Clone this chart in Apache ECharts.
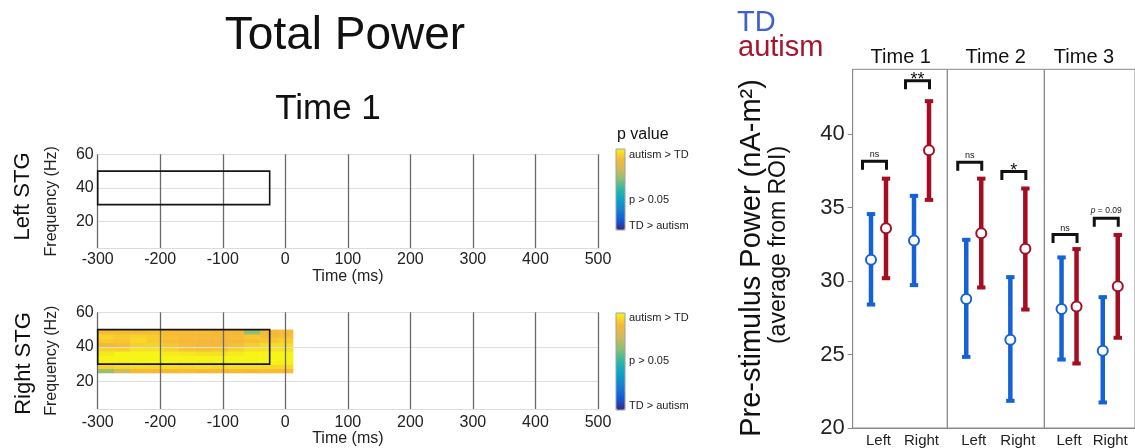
<!DOCTYPE html>
<html>
<head>
<meta charset="utf-8">
<script src="https://cdn.jsdelivr.net/npm/echarts@6/dist/echarts.min.js"></script>
<style>
  html, body { margin: 0; padding: 0; background: #fff; }
  #main { width: 1135px; height: 448px; }
</style>
</head>
<body>
<div id="main"></div>
<script>
// ---------- time-frequency maps (Time 1) ----------
const timeTicks = [-300, -200, -100, 0, 100, 200, 300, 400, 500];
const freqTicks = [20, 40, 60];
const roiTime = [-300, -25];          // ms
const roiFreq = [30, 50];            // Hz

// Right STG cluster: bin edges and scaled p values (1 = strongest autism > TD)
const clusterTimeEdges = [-300, -274, -248, -222, -196, -170, -144, -118, -92, -66, -40, -14, 12];
const clusterFreqEdges = [25, 27.5, 30, 32.5, 35, 37.5, 40, 42.5, 45, 47.5, 50];
const clusterRows = [            // lowest frequency row first
  [0.66, 0.76, 0.87, 0.87, 0.87, 0.88, 0.87, 0.87, 0.88, 0.87, 0.88, 0.88],
  [0.93, 0.94, 0.95, 0.94, 0.95, 0.94, 0.95, 0.94, 0.95, 0.95, 0.94, 0.94],
  [0.99, 0.99, 1.00, 1.00, 1.00, 0.99, 0.99, 0.99, 1.00, 1.00, 1.00, 0.99],
  [1.00, 1.00, 1.00, 1.00, 1.00, 1.00, 1.00, 1.00, 1.00, 1.00, 1.00, 1.00],
  [0.97, 1.00, 1.00, 1.00, 0.98, 0.97, 0.96, 0.96, 0.98, 1.00, 1.00, 1.00],
  [0.93, 0.92, 0.96, 0.96, 0.93, 0.90, 0.89, 0.90, 0.93, 0.96, 0.96, 0.96],
  [0.87, 0.88, 0.92, 0.93, 0.90, 0.88, 0.87, 0.87, 0.89, 0.92, 0.95, 0.95],
  [0.91, 0.90, 0.94, 0.91, 0.88, 0.87, 0.86, 0.85, 0.87, 0.89, 0.90, 0.92],
  [0.93, 0.91, 0.93, 0.91, 0.89, 0.88, 0.87, 0.87, 0.88, 0.90, 0.88, 0.89],
  [0.88, 0.88, 0.88, 0.89, 0.88, 0.88, 0.88, 0.87, 0.87, 0.64, 0.86, 0.88]
];
const parula = ['#352a87', '#0f5cdd', '#1481d6', '#06a4ca', '#2eb7a4', '#87bf77', '#d1bb59', '#f7b936', '#f6f516'];

// ---------- ROI pre-stimulus power ----------
const timepoints = ['Time 1', 'Time 2', 'Time 3'];
const sides = ['Left', 'Right'];
const powerTicks = [20, 25, 30, 35, 40];
const tdMean  = [[31.45, 32.75], [28.77, 26.00], [28.10, 25.26]];
const tdLow   = [[28.33, 29.65], [24.77, 21.78], [24.59, 21.67]];
const tdHigh  = [[34.62, 35.86], [32.87, 30.33], [31.67, 28.97]];
const asdMean = [[33.59, 38.90], [33.25, 32.19], [28.26, 29.65]];
const asdLow  = [[30.12, 35.45], [29.49, 27.99], [24.32, 26.07]];
const asdHigh = [[37.03, 42.30], [37.03, 36.36], [32.24, 33.20]];
const sigLabels = [['ns', '**'], ['ns', '*'], ['ns', 'p = 0.09']];
const sigHeight = [[38.15, 43.62], [38.08, 37.44], [33.16, 34.26]];

// ---------- styling ----------
const FONT = '"Liberation Sans", Arial, Helvetica, sans-serif';
const TD_COLOR = '#1462d6';
const ASD_COLOR = '#a50d22';
const DODGE = 7.5;

const chart = echarts.init(document.getElementById('main'), null, { renderer: 'canvas' });

// cluster cells as [t0, t1, f0, f1, value]
const clusterCells = [];
clusterRows.forEach((row, fi) => {
  row.forEach((v, ti) => {
    clusterCells.push([clusterTimeEdges[ti], clusterTimeEdges[ti + 1],
                       clusterFreqEdges[fi], clusterFreqEdges[fi + 1], v]);
  });
});

function cellItem(params, api) {
  const a = api.coord([api.value(0), api.value(3)]);
  const b = api.coord([api.value(1), api.value(2)]);
  return {
    type: 'rect',
    shape: { x: a[0], y: a[1], width: b[0] - a[0] + 0.5, height: b[1] - a[1] + 0.5 },
    style: { fill: api.visual('color') }
  };
}
function boxItem(params, api) {
  const a = api.coord([api.value(0), api.value(3)]);
  const b = api.coord([api.value(1), api.value(2)]);
  return {
    type: 'rect',
    shape: { x: a[0], y: a[1], width: b[0] - a[0], height: b[1] - a[1] },
    style: { fill: null, stroke: '#151515', lineWidth: 1.6 }
  };
}
function errorBar(color, dodge) {
  return function (params, api) {
    const m = api.coord([api.value(0), api.value(1)]);
    const lo = api.coord([api.value(0), api.value(2)]);
    const hi = api.coord([api.value(0), api.value(3)]);
    const cx = m[0] + dodge;
    return {
      type: 'group',
      children: [
        { type: 'line', shape: { x1: cx, y1: lo[1], x2: cx, y2: hi[1] }, style: { stroke: color, lineWidth: 4.5 } },
        { type: 'line', shape: { x1: cx - 4.2, y1: hi[1] + 1, x2: cx + 4.2, y2: hi[1] + 1 }, style: { stroke: color, lineWidth: 4 } },
        { type: 'line', shape: { x1: cx - 4.2, y1: lo[1] - 1, x2: cx + 4.2, y2: lo[1] - 1 }, style: { stroke: color, lineWidth: 4 } },
        { type: 'circle', shape: { cx: cx, cy: m[1], r: 5 }, style: { fill: '#fff', stroke: color, lineWidth: 2 } }
      ]
    };
  };
}
function bracket(labels) {
  return function (params, api) {
    const p = api.coord([api.value(0), api.value(1)]);
    const cx = p[0] - 4;
    const y = p[1];
    const label = labels[params.dataIndex];
    const isStars = label.indexOf('*') === 0;
    const isP = label.indexOf('p') === 0;
    const text = isP ? {
      type: 'text', x: cx, y: y - 3,
      style: { text: '{i|p}{n| = 0.09}', align: 'center', verticalAlign: 'bottom',
               rich: { i: { fontStyle: 'italic', fontSize: 8.5, fontFamily: FONT, fill: '#222' },
                       n: { fontSize: 8.5, fontFamily: FONT, fill: '#222' } } }
    } : {
      type: 'text', x: cx, y: isStars ? y + 8 : y - 2,
      style: { text: label, align: 'center', verticalAlign: 'bottom',
               fontSize: isStars ? 18 : 9, fontFamily: FONT, fill: '#111' }
    };
    return {
      type: 'group',
      children: [
        { type: 'polyline', shape: { points: [[cx - 12, y + 8.5], [cx - 12, y], [cx + 12, y], [cx + 12, y + 8.5]] },
          style: { stroke: '#111', lineWidth: 3, fill: null } },
        text
      ]
    };
  };
}

// ---------- grids ----------
const grids = [
  { left: 97.7, top: 154.3, width: 500.3, height: 94 },
  { left: 97.7, top: 312.3, width: 500.3, height: 98 },
  { left: 852.7, top: 69.3, width: 94.6, height: 361.4, show: true, borderColor: '#8a8a8a', borderWidth: 1 },
  { left: 947.3, top: 69.3, width: 97, height: 361.4, show: true, borderColor: '#8a8a8a', borderWidth: 1 },
  { left: 1044.3, top: 69.3, width: 97, height: 361.4, show: true, borderColor: '#8a8a8a', borderWidth: 1 }
];

const xAxes = [];
const yAxes = [];
[0, 1].forEach(g => {
  xAxes.push({
    gridIndex: g, type: 'value', min: -300, max: 500, interval: 100,
    name: 'Time (ms)', nameLocation: 'middle', nameGap: g === 0 ? 14 : 19,
    nameTextStyle: { fontSize: 16, fontFamily: FONT, color: '#222' },
    axisLine: { show: true, onZero: false, lineStyle: { color: '#dcdcdc' } },
    axisTick: { show: false },
    axisLabel: { fontSize: 16, fontFamily: FONT, color: '#222', margin: g === 0 ? 3 : 5,
                 customValues: timeTicks },
    splitLine: { show: true, lineStyle: { color: '#6a6a6a', width: 1.3 } }
  });
  yAxes.push({
    gridIndex: g, type: 'value', min: 4, max: 60,
    name: 'Frequency (Hz)', nameLocation: 'middle', nameGap: 38, nameRotate: 90,
    nameTextStyle: { fontSize: 16, fontFamily: FONT, color: '#222' },
    axisLine: { show: false, onZero: false },
    axisTick: { show: false, customValues: freqTicks },
    axisLabel: { fontSize: 16, fontFamily: FONT, color: '#222', margin: 4, customValues: freqTicks },
    splitLine: { show: true, lineStyle: { color: '#dedede', width: 1 } }
  });
});
[2, 3, 4].forEach(g => {
  xAxes.push({
    gridIndex: g, type: 'value', min: -0.6, max: 1.6,
    axisLine: { show: true, onZero: false, lineStyle: { color: '#8a8a8a' } },
    axisTick: { show: false, customValues: [0, 1] },
    axisLabel: { fontSize: 15, fontFamily: FONT, color: '#222', margin: 5, customValues: [0, 1],
                 formatter: v => sides[Math.round(v)] },
    splitLine: { show: false }
  });
  yAxes.push({
    gridIndex: g, type: 'value', min: 20, max: 44.4,
    axisLine: { show: g === 2, onZero: false, lineStyle: { color: '#8a8a8a' } },
    axisTick: { show: g === 2, length: 5, lineStyle: { color: '#8a8a8a' }, customValues: powerTicks },
    axisLabel: { show: g === 2, fontSize: 22, fontFamily: FONT, color: '#222', margin: 8, customValues: powerTicks },
    splitLine: { show: false }
  });
});

// ---------- series ----------
const series = [
  { name: 'Left STG cluster', type: 'custom', xAxisIndex: 0, yAxisIndex: 0, z: -1,
    renderItem: cellItem, encode: { x: [0, 1], y: [2, 3] }, data: [] },
  { name: 'Left STG ROI', type: 'custom', xAxisIndex: 0, yAxisIndex: 0, z: 5,
    renderItem: boxItem, encode: { x: [0, 1], y: [2, 3] },
    data: [[roiTime[0], roiTime[1], roiFreq[0], roiFreq[1]]] },
  { name: 'Right STG cluster', type: 'custom', xAxisIndex: 1, yAxisIndex: 1, z: -1,
    renderItem: cellItem, encode: { x: [0, 1], y: [2, 3] }, data: clusterCells },
  { name: 'Right STG ROI', type: 'custom', xAxisIndex: 1, yAxisIndex: 1, z: 5,
    renderItem: boxItem, encode: { x: [0, 1], y: [2, 3] },
    data: [[roiTime[0], roiTime[1], roiFreq[0], roiFreq[1]]] }
];
timepoints.forEach((tp, p) => {
  const g = p + 2;
  series.push({
    name: 'TD ' + tp, type: 'custom', xAxisIndex: g, yAxisIndex: g, z: 4,
    renderItem: errorBar(TD_COLOR, -DODGE), encode: { x: 0, y: [1, 2, 3] },
    data: sides.map((s, i) => [i, tdMean[p][i], tdLow[p][i], tdHigh[p][i]])
  });
  series.push({
    name: 'autism ' + tp, type: 'custom', xAxisIndex: g, yAxisIndex: g, z: 4,
    renderItem: errorBar(ASD_COLOR, DODGE), encode: { x: 0, y: [1, 2, 3] },
    data: sides.map((s, i) => [i, asdMean[p][i], asdLow[p][i], asdHigh[p][i]])
  });
  series.push({
    name: 'contrast ' + tp, type: 'custom', xAxisIndex: g, yAxisIndex: g, z: 6,
    renderItem: bracket(sigLabels[p]), encode: { x: 0, y: 1 },
    data: sides.map((s, i) => [i, sigHeight[p][i]])
  });
});

// ---------- colour bars ----------
function colorBar(seriesIndex, top, height) {
  return {
    type: 'continuous', seriesIndex: seriesIndex, dimension: 4, min: 0, max: 1,
    orient: 'vertical', left: 616, top: top, itemWidth: 9, itemHeight: height,
    padding: 0, calculable: false, realtime: false, hoverLink: false,
    inRange: { color: parula }, textStyle: { fontSize: 0 }
  };
}

function txt(x, y, text, size, opts) {
  return Object.assign({
    type: 'text', x: x, y: y,
    style: Object.assign({ text: text, fontSize: size, fontFamily: FONT, fill: '#111',
                           align: 'center', verticalAlign: 'middle' }, (opts && opts.style) || {})
  }, opts && opts.rotation !== undefined ? { rotation: opts.rotation } : {});
}
const R = Math.PI / 2;
const graphics = [
  txt(345, 36, 'Total Power', 46),
  txt(328, 109, 'Time 1', 35),
  txt(23, 196.5, 'Left STG', 22, { rotation: R }),
  txt(24, 363.5, 'Right STG', 22, { rotation: R }),
  txt(617, 135, 'p value', 16, { style: { align: 'left' } }),
  txt(629, 155, 'autism > TD', 11, { style: { align: 'left', fill: '#222' } }),
  txt(629, 200, 'p > 0.05', 11, { style: { align: 'left', fill: '#222' } }),
  txt(629, 226, 'TD > autism', 11, { style: { align: 'left', fill: '#222' } }),
  txt(629, 318, 'autism > TD', 11, { style: { align: 'left', fill: '#222' } }),
  txt(629, 361, 'p > 0.05', 11, { style: { align: 'left', fill: '#222' } }),
  txt(629, 406, 'TD > autism', 11, { style: { align: 'left', fill: '#222' } }),
  { type: 'rect', shape: { x: 616, y: 149, width: 9, height: 81 }, style: { fill: null, stroke: '#a0a0a0', lineWidth: 1 }, z: 100 },
  { type: 'rect', shape: { x: 616, y: 313, width: 9, height: 97 }, style: { fill: null, stroke: '#a0a0a0', lineWidth: 1 }, z: 100 },
  txt(737, 22.5, 'TD', 29, { style: { align: 'left', fill: '#3f5fd2' } }),
  txt(738, 48, 'autism', 29, { style: { align: 'left', fill: '#a8142e' } }),
  txt(752, 258, 'Pre-stimulus Power (nA-m²)', 29, { rotation: R }),
  txt(779, 245, '(average from ROI)', 23, { rotation: R }),
  txt(900.8, 57, timepoints[0], 20),
  txt(995.8, 57, timepoints[1], 20),
  txt(1084, 57, timepoints[2], 20)
];

chart.setOption({
  animation: false,
  backgroundColor: '#fff',
  textStyle: { fontFamily: FONT },
  grid: grids,
  xAxis: xAxes,
  yAxis: yAxes,
  visualMap: [colorBar(0, 149, 81), colorBar(2, 313, 97)],
  series: series,
  graphic: { elements: graphics }
});
</script>
</body>
</html>
